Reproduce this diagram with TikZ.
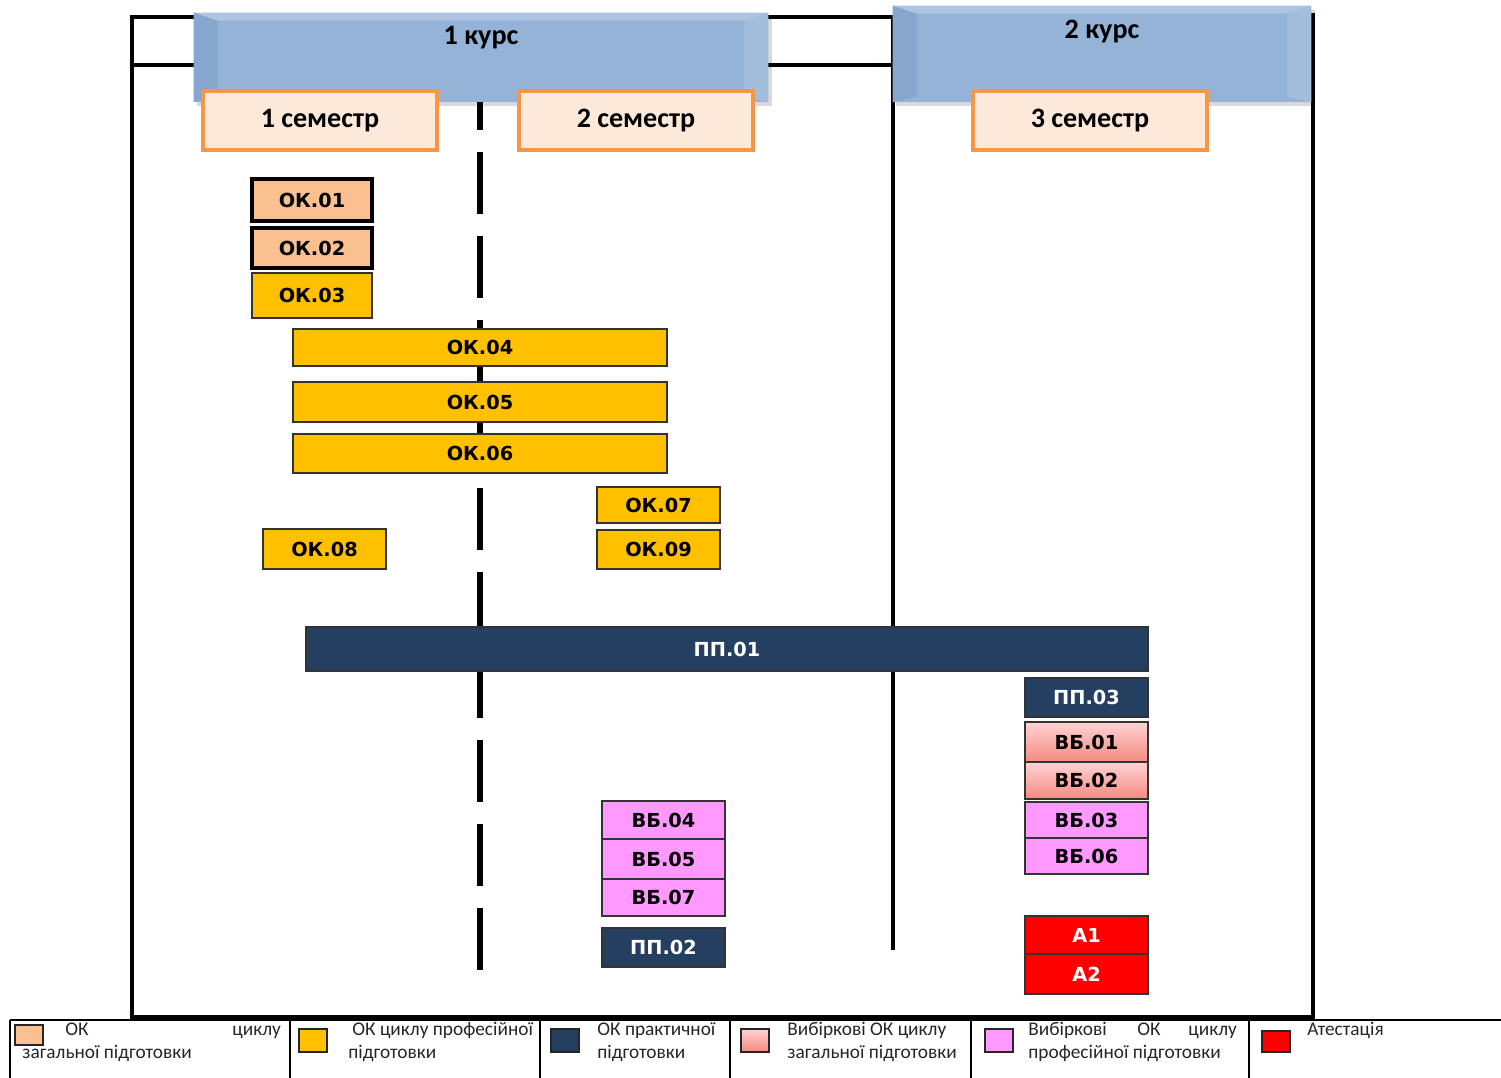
\documentclass[tikz,border=0pt]{standalone}
\usepackage{fontspec}
\usetikzlibrary{calc}
\setmainfont{Carlito}
\newfontfamily\boxfont{DejaVu Sans}
\definecolor{kursblue}{HTML}{95B3D7}
\definecolor{kurslight}{HTML}{ADC5E2}
\definecolor{kursdark}{HTML}{86A6CE}
\definecolor{kursright}{HTML}{A3BDDC}
\definecolor{semfill}{HTML}{FDE9D9}
\definecolor{semdraw}{HTML}{F79646}
\definecolor{okgen}{HTML}{FAC090}
\definecolor{okprof}{HTML}{FFC000}
\definecolor{navy}{HTML}{243F60}
\definecolor{vbpinktop}{HTML}{FFD3D3}
\definecolor{vbpinkbot}{HTML}{F48A80}
\definecolor{vbviolet}{HTML}{FF99FF}
\definecolor{atred}{HTML}{FF0000}
\newcommand\bx[7]{\node[#6, minimum width={(#4-#2)*0.02cm}, minimum height={(#5-#3)*0.02cm}] (#1) at ({(#2+#4)/2},{(#3+#5)/2}) {#7};}
\tikzset{
  base/.style={rectangle, inner sep=0pt, outer sep=0pt, font=\boxfont\bfseries\fontsize{11}{13}\selectfont},
  gen/.style={base, fill=okgen, draw=black, line width=2.2pt},
  prof/.style={base, fill=okprof, draw=black!80, line width=0.8pt},
  prac/.style={base, fill=navy, draw=black!80, line width=0.8pt, text=white},
  vbgen/.style={base, top color=vbpinktop, bottom color=vbpinkbot, draw=black!80, line width=0.8pt},
  vbprof/.style={base, fill=vbviolet, draw=black!80, line width=0.8pt},
  att/.style={base, fill=atred, draw=black!80, line width=0.8pt, text=white},
  sem/.style={rectangle, inner sep=0pt, fill=semfill, draw=semdraw, line width=2pt, font=\bfseries\fontsize{16}{19}\selectfont},
  kurs/.style={rectangle, inner sep=0pt, fill=kursblue},
  frame/.style={line width=2.3pt, line cap=rect},
  leg/.style={line width=0.8pt},
  swatch/.style={draw=black!85, line width=0.8pt},
  legtext/.style={anchor=base west, inner sep=0pt, font=\fontsize{11}{13}\selectfont, text=black!85},
  kurstext/.style={font=\bfseries\fontsize{16}{19}\selectfont, inner sep=0pt}
}
\begin{document}
\begin{tikzpicture}[x=0.02cm, y=-0.02cm]
\useasboundingbox (0,0) rectangle (1501,1078);
% frame
\coordinate (f1) at (132,17);
\coordinate (f2) at (893,17);
\coordinate (f3) at (132,65);
\coordinate (f4) at (893,65);
\coordinate (f5) at (893,950);
\coordinate (f6) at (1313,15);
\coordinate (f7) at (1313,1017);
\coordinate (f8) at (132,1017);
\draw[frame] (f2) -- (f1) -- (f8) -- (f7) -- (f6);
\draw[frame] (f3) -- (f4);
\draw[frame, line cap=butt] (f2) -- (f5);
% dashed semester line
\coordinate (d1) at (480,102);
\coordinate (d2) at (480,970);
\draw[line width=0.12cm, dash pattern=on 1.24cm off 0.44cm, dash phase=0.68cm] (d1) -- (d2);
% kurs boxes with bevel
\fill[black, opacity=0.15] (197,17) rectangle (772,106);
\fill[black, opacity=0.15] (896,10) rectangle (1315,106);
\bx{k1}{194}{13}{768}{102}{kurs}{}
\bx{k2}{893}{6}{1311}{102}{kurs}{}
\fill[kurslight] (k1.north west) -- (k1.north east) -- ($(k1.north east)+(-24,8)$) -- ($(k1.north west)+(24,8)$) -- cycle;
\fill[kursdark] (k1.north west) -- ($(k1.north west)+(24,8)$) -- ($(k1.south west)+(24,-6)$) -- (k1.south west) -- cycle;
\fill[kursright] (k1.north east) -- ($(k1.north east)+(-24,8)$) -- ($(k1.south east)+(-24,-6)$) -- (k1.south east) -- cycle;
\fill[kurslight] (k2.north west) -- (k2.north east) -- ($(k2.north east)+(-24,8)$) -- ($(k2.north west)+(24,8)$) -- cycle;
\fill[kursdark] (k2.north west) -- ($(k2.north west)+(24,8)$) -- ($(k2.south west)+(24,-6)$) -- (k2.south west) -- cycle;
\fill[kursright] (k2.north east) -- ($(k2.north east)+(-24,8)$) -- ($(k2.south east)+(-24,-6)$) -- (k2.south east) -- cycle;
\node[kurstext] (k1t) at (481,38) {1 курс};
\node[kurstext] (k2t) at (1102,31) {2 курс};
% semesters
\bx{s1}{203}{91}{437}{150}{sem}{1 семестр}
\bx{s2}{519}{91}{753}{150}{sem}{2 семестр}
\bx{s3}{973}{91}{1207}{150}{sem}{3 семестр}
% OK boxes
\bx{ok01}{252}{179}{372}{221}{gen}{ОК.01}
\bx{ok02}{252}{228}{372}{268}{gen}{ОК.02}
\bx{ok03}{252}{273}{372}{318}{prof}{ОК.03}
\bx{ok04}{293}{329}{667}{366}{prof}{ОК.04}
\bx{ok05}{293}{382}{667}{422}{prof}{ОК.05}
\bx{ok06}{293}{434}{667}{473}{prof}{ОК.06}
\bx{ok07}{597}{487}{720}{523}{prof}{ОК.07}
\bx{ok09}{597}{530}{720}{569}{prof}{ОК.09}
\bx{ok08}{263}{529}{386}{569}{prof}{ОК.08}
\bx{pp01}{306}{627}{1148}{671}{prac}{ПП.01}
\bx{pp03}{1025}{678}{1148}{717}{prac}{ПП.03}
\bx{vb01}{1025}{722}{1148}{762}{vbgen}{ВБ.01}
\bx{vb02}{1025}{762}{1148}{799}{vbgen}{ВБ.02}
\bx{vb03}{1025}{802}{1148}{838}{vbprof}{ВБ.03}
\bx{vb06}{1025}{838}{1148}{874}{vbprof}{ВБ.06}
\bx{vb04}{602}{801}{725}{839}{vbprof}{ВБ.04}
\bx{vb05}{602}{839}{725}{879}{vbprof}{ВБ.05}
\bx{vb07}{602}{879}{725}{916}{vbprof}{ВБ.07}
\bx{pp02}{602}{928}{725}{967}{prac}{ПП.02}
\bx{a1}{1025}{916}{1148}{954}{att}{А1}
\bx{a2}{1025}{954}{1148}{994}{att}{А2}
% legend
\coordinate (l0) at (10,1020);
\coordinate (l1) at (1501,1020);
\draw[leg] (l0) -- (l1);
\foreach \xx in {10,290,540,730,971,1249} \draw[leg] (\xx,1020) -- (\xx,1078);
\bx{sw1}{15}{1025}{43}{1045}{swatch, fill=okgen}{}
\bx{sw2}{299}{1029}{327}{1052}{swatch, fill=okprof}{}
\bx{sw3}{551}{1029}{579}{1052}{swatch, fill=navy}{}
\bx{sw4}{741}{1029}{769}{1052}{swatch, top color=vbpinktop, bottom color=vbpinkbot}{}
\bx{sw5}{985}{1029}{1013}{1052}{swatch, fill=vbviolet}{}
\bx{sw6}{1262}{1031}{1290}{1052}{swatch, fill=atred}{}
\node[legtext] (t1a) at (65,1035) {ОК};
\node[legtext] (t1b) at (232,1035) {циклу};
\node[legtext] (t1c) at (22,1058) {загальної підготовки};
\node[legtext] (t2a) at (352,1035) {ОК циклу професійної};
\node[legtext] (t2b) at (348,1058) {підготовки};
\node[legtext] (t3a) at (597,1035) {ОК практичної};
\node[legtext] (t3b) at (597,1058) {підготовки};
\node[legtext] (t4a) at (787,1035) {Вибіркові ОК циклу};
\node[legtext] (t4b) at (787,1058) {загальної підготовки};
\node[legtext] (t5a) at (1028,1035) {Вибіркові};
\node[legtext] (t5b) at (1137,1035) {ОК};
\node[legtext] (t5c) at (1188,1035) {циклу};
\node[legtext] (t5d) at (1028,1058) {професійної підготовки};
\node[legtext] (t6a) at (1307,1035) {Атестація};
\end{tikzpicture}
\end{document}
